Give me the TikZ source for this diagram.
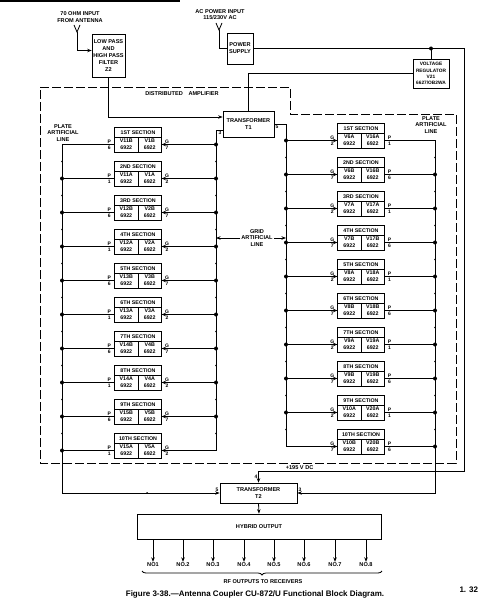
\documentclass[tikz,border=0pt]{standalone}
\usepackage{fontspec}
\setmainfont{Liberation Sans}
\usepackage{array}
\usepackage{tikz}
\usetikzlibrary{positioning, arrows.meta, decorations.pathreplacing}

\newcolumntype{C}{>{\centering\arraybackslash}p{20pt}}
\newcommand{\secbox}[3]{%
	\setlength{\tabcolsep}{1.5pt}\renewcommand{\arraystretch}{1.25}%
	\begin{tabular}{C|C}
		\multicolumn{2}{c}{\rule[-2.5pt]{0pt}{9.5pt}#1}\\\hline
		#2 & #3\\
		6922 & 6922
	\end{tabular}}

\begin{document}
\begin{tikzpicture}[
			x=1pt, y=-1pt,
			node distance=8.3pt,
			sect/.style={draw, line width=0.7pt, inner sep=0pt, minimum height=25pt, font=\fontsize{5.3}{6}\selectfont\bfseries},
			block/.style={draw, line width=0.7pt, align=center, inner sep=1pt, font=\fontsize{5.6}{7}\selectfont\bfseries},
			lbl/.style={align=center, inner sep=1pt, font=\fontsize{5.6}{6.5}\selectfont\bfseries},
			pinlbl/.style={inner sep=0.8pt, font=\fontsize{5}{5}\selectfont\bfseries},
			wire/.style={line width=0.8pt},
			arrow/.style={wire, -{Stealth[length=4.5pt, width=3.5pt]}},
			jdot/.style={circle, fill, inner sep=0pt, minimum size=4pt},
			minidot/.style={circle, fill, inner sep=0pt, minimum size=1.8pt},
			brace/.style={wire, decorate, decoration={brace, mirror, amplitude=4pt}},
			amp/.style={wire, dash pattern=on 9pt off 3pt}
			]
			\useasboundingbox (0,0) rectangle (480,615);
			\draw[line width=2pt] (0,1) -- (180,1);
			
			% Nodes
			\node[lbl] (antin) at (80,17) {70 OHM INPUT\\FROM ANTENNA};
			\node[lbl] (acin) at (220,14.5) {AC POWER INPUT\\115/230V AC};
			\node[block, minimum width=33pt, minimum height=43pt] (filt) at (108.5,55.5) {LOW PASS\\AND\\HIGH PASS\\FILTER\\Z2};
			\node[block, minimum width=26pt, minimum height=31pt] (psu) at (240,48.5) {POWER\\SUPPLY};
			\node[block, minimum width=36pt, minimum height=29pt, font=\fontsize{4.8}{6.2}\selectfont\bfseries] (reg) at (431,73.5) {VOLTAGE\\REGULATOR\\V21\\6627/OB2WA};
			\node[lbl] (dist) at (182,94) {DISTRIBUTED\quad AMPLIFIER};
			\node[block, minimum width=51pt, minimum height=26pt] (t1) at (248.5,124) {TRANSFORMER\\T1};
			\node[lbl] (platel) at (63,133) {PLATE\\ARTIFICIAL\\LINE};
			\node[lbl] (plater) at (431,125) {PLATE\\ARTIFICIAL\\LINE};
			\node[lbl] (grid) at (257,238) {GRID\\ARTIFICIAL\\LINE};
			
			\node[sect] (l1) at (138,139.5) {\secbox{1ST SECTION}{V11B}{V1B}};
			\node[sect, below=of l1] (l2) {\secbox{2ND SECTION}{V11A}{V1A}};
			\node[sect, below=of l2] (l3) {\secbox{3RD SECTION}{V12B}{V2B}};
			\node[sect, below=of l3] (l4) {\secbox{4TH SECTION}{V12A}{V2A}};
			\node[sect, below=of l4] (l5) {\secbox{5TH SECTION}{V13B}{V3B}};
			\node[sect, below=of l5] (l6) {\secbox{6TH SECTION}{V13A}{V3A}};
			\node[sect, below=of l6] (l7) {\secbox{7TH SECTION}{V14B}{V4B}};
			\node[sect, below=of l7] (l8) {\secbox{8TH SECTION}{V14A}{V4A}};
			\node[sect, below=of l8] (l9) {\secbox{9TH SECTION}{V15B}{V5B}};
			\node[sect, below=of l9] (l10) {\secbox{10TH SECTION}{V15A}{V5A}};
			
			\node[sect] (r1) at (361,135.5) {\secbox{1ST SECTION}{V6A}{V16A}};
			\node[sect, below=of r1] (r2) {\secbox{2ND SECTION}{V6B}{V16B}};
			\node[sect, below=of r2] (r3) {\secbox{3RD SECTION}{V7A}{V17A}};
			\node[sect, below=of r3] (r4) {\secbox{4TH SECTION}{V7B}{V17B}};
			\node[sect, below=of r4] (r5) {\secbox{5TH SECTION}{V8A}{V18A}};
			\node[sect, below=of r5] (r6) {\secbox{6TH SECTION}{V8B}{V18B}};
			\node[sect, below=of r6] (r7) {\secbox{7TH SECTION}{V9A}{V19A}};
			\node[sect, below=of r7] (r8) {\secbox{8TH SECTION}{V9B}{V19B}};
			\node[sect, below=of r8] (r9) {\secbox{9TH SECTION}{V10A}{V20A}};
			\node[sect, below=of r9] (r10) {\secbox{10TH SECTION}{V10B}{V20B}};
			
			\node[block, minimum width=77pt, minimum height=20pt] (t2) at (258.5,493) {TRANSFORMER\\T2};
			\node[block, minimum width=244pt, minimum height=25pt] (hyb) at (259,526.5) {HYBRID OUTPUT};
			
			\node[lbl] (o1) at (153,565) {NO1};
			\node[lbl] (o2) at (183,565) {NO.2};
			\node[lbl] (o3) at (213,565) {NO.3};
			\node[lbl] (o4) at (244,565) {NO.4};
			\node[lbl] (o5) at (274,565) {NO.5};
			\node[lbl] (o6) at (304,565) {NO.6};
			\node[lbl] (o7) at (335,565) {NO.7};
			\node[lbl] (o8) at (366,565) {NO.8};
			\node[lbl] (rf) at (263,582) {RF OUTPUTS TO RECEIVERS};
			\node[font=\fontsize{8}{9}\selectfont\bfseries] (cap) at (255,594) {Figure 3-38.—Antenna Coupler CU-872/U Functional Block Diagram.};
			\node[font=\fontsize{8}{9}\selectfont\bfseries, anchor=west] (pg) at (456,590) {1. 32};
			
			% Lines of the artificial lines
			\coordinate (pl) at (62,0);
			\coordinate (gl) at (216,0);
			\coordinate (gr) at (286,0);
			\coordinate (pr) at (435,0);
			\coordinate (ant1) at (77,32);
			\coordinate (ant2) at (219,30);
			\coordinate (dc) at (464,471);
			
			\draw[amp] (40,87) -- (290,87) -- (290,114) -- (456,114) -- (456,463) -- (40,463) -- cycle;
			\draw[wire] (74,25) -- (ant1) -- (80,25);
			\draw[wire] (216,23) -- (ant2) -- (222,23);
			
			% Arrows
			\draw[arrow] (ant1) |- ([yshift=5pt]filt.west);
			\draw[wire] (ant2) |- (psu.west);
			\draw[arrow] (filt.south) |- ([yshift=7pt]t1.west);
			\draw[wire] (reg.west) -| (t1.north);
			\draw[arrow] (psu.east) -- (psu.east -| dc) -- (dc) -| node[lbl, above, pos=0.4] {+195 V DC} node[pinlbl, left, pos=0.75] {4} (t2.north);
			\draw[wire] (reg.north |- psu.east) node[jdot] {} -- (reg.north);
			
			\draw[wire] ([yshift=-6pt]t1.west) node[pinlbl, below left] {3} -| ([yshift=-5pt]l10.east -| gl);
			\draw[wire] (t1.east) node[pinlbl, below right] {5} -| ([yshift=-5pt]r10.west -| gr);
			\draw[arrow] (grid.west) -- (grid.west -| gl);
			\draw[arrow] (grid.east) -- (grid.east -| gr);
			
			\draw[arrow] ([yshift=-5pt]l1.west) -- node[pinlbl, above, pos=.1] {P} node[pinlbl, below, pos=.1] {6} ([yshift=-5pt]l1.west -| pl) |- node[minidot, pos=0.77] {} node[pinlbl, above left, pos=1] {5} (t2.west);
			\draw[wire] ([yshift=-5pt]l2.west) -- node[pinlbl, above, pos=.1] {P} node[pinlbl, below, pos=.1] {1} ([yshift=-5pt]l2.west -| pl) node[jdot] {};
			\draw[wire] ([yshift=-5pt]l3.west) -- node[pinlbl, above, pos=.1] {P} node[pinlbl, below, pos=.1] {6} ([yshift=-5pt]l3.west -| pl) node[jdot] {};
			\draw[wire] ([yshift=-5pt]l4.west) -- node[pinlbl, above, pos=.1] {P} node[pinlbl, below, pos=.1] {1} ([yshift=-5pt]l4.west -| pl) node[jdot] {};
			\draw[wire] ([yshift=-5pt]l5.west) -- node[pinlbl, above, pos=.1] {P} node[pinlbl, below, pos=.1] {6} ([yshift=-5pt]l5.west -| pl) node[jdot] {};
			\draw[wire] ([yshift=-5pt]l6.west) -- node[pinlbl, above, pos=.1] {P} node[pinlbl, below, pos=.1] {1} ([yshift=-5pt]l6.west -| pl) node[jdot] {};
			\draw[wire] ([yshift=-5pt]l7.west) -- node[pinlbl, above, pos=.1] {P} node[pinlbl, below, pos=.1] {6} ([yshift=-5pt]l7.west -| pl) node[jdot] {};
			\draw[wire] ([yshift=-5pt]l8.west) -- node[pinlbl, above, pos=.1] {P} node[pinlbl, below, pos=.1] {1} ([yshift=-5pt]l8.west -| pl) node[jdot] {};
			\draw[wire] ([yshift=-5pt]l9.west) -- node[pinlbl, above, pos=.1] {P} node[pinlbl, below, pos=.1] {6} ([yshift=-5pt]l9.west -| pl) node[jdot] {};
			\draw[wire] ([yshift=-5pt]l10.west) -- node[pinlbl, above, pos=.1] {P} node[pinlbl, below, pos=.1] {1} ([yshift=-5pt]l10.west -| pl) node[jdot] {};
			
			\draw[arrow] ([yshift=-5pt]l1.east -| gl) node[jdot] {} -- node[pinlbl, above, pos=.9] {G} node[pinlbl, below, pos=.9] {7} ([yshift=-5pt]l1.east);
			\draw[arrow] ([yshift=-5pt]l2.east -| gl) node[jdot] {} -- node[pinlbl, above, pos=.9] {G} node[pinlbl, below, pos=.9] {2} ([yshift=-5pt]l2.east);
			\draw[arrow] ([yshift=-5pt]l3.east -| gl) node[jdot] {} -- node[pinlbl, above, pos=.9] {G} node[pinlbl, below, pos=.9] {7} ([yshift=-5pt]l3.east);
			\draw[arrow] ([yshift=-5pt]l4.east -| gl) node[jdot] {} -- node[pinlbl, above, pos=.9] {G} node[pinlbl, below, pos=.9] {2} ([yshift=-5pt]l4.east);
			\draw[arrow] ([yshift=-5pt]l5.east -| gl) node[jdot] {} -- node[pinlbl, above, pos=.9] {G} node[pinlbl, below, pos=.9] {7} ([yshift=-5pt]l5.east);
			\draw[arrow] ([yshift=-5pt]l6.east -| gl) node[jdot] {} -- node[pinlbl, above, pos=.9] {G} node[pinlbl, below, pos=.9] {2} ([yshift=-5pt]l6.east);
			\draw[arrow] ([yshift=-5pt]l7.east -| gl) node[jdot] {} -- node[pinlbl, above, pos=.9] {G} node[pinlbl, below, pos=.9] {7} ([yshift=-5pt]l7.east);
			\draw[arrow] ([yshift=-5pt]l8.east -| gl) node[jdot] {} -- node[pinlbl, above, pos=.9] {G} node[pinlbl, below, pos=.9] {2} ([yshift=-5pt]l8.east);
			\draw[arrow] ([yshift=-5pt]l9.east -| gl) node[jdot] {} -- node[pinlbl, above, pos=.9] {G} node[pinlbl, below, pos=.9] {7} ([yshift=-5pt]l9.east);
			\draw[arrow] ([yshift=-5pt]l10.east -| gl) -- node[pinlbl, above, pos=.9] {G} node[pinlbl, below, pos=.9] {2} ([yshift=-5pt]l10.east);
			
			\draw[arrow] ([yshift=-5pt]r1.west -| gr) node[jdot] {} -- node[pinlbl, above, pos=.9] {G} node[pinlbl, below, pos=.9] {2} ([yshift=-5pt]r1.west);
			\draw[arrow] ([yshift=-5pt]r2.west -| gr) node[jdot] {} -- node[pinlbl, above, pos=.9] {G} node[pinlbl, below, pos=.9] {7} ([yshift=-5pt]r2.west);
			\draw[arrow] ([yshift=-5pt]r3.west -| gr) node[jdot] {} -- node[pinlbl, above, pos=.9] {G} node[pinlbl, below, pos=.9] {2} ([yshift=-5pt]r3.west);
			\draw[arrow] ([yshift=-5pt]r4.west -| gr) node[jdot] {} -- node[pinlbl, above, pos=.9] {G} node[pinlbl, below, pos=.9] {7} ([yshift=-5pt]r4.west);
			\draw[arrow] ([yshift=-5pt]r5.west -| gr) node[jdot] {} -- node[pinlbl, above, pos=.9] {G} node[pinlbl, below, pos=.9] {2} ([yshift=-5pt]r5.west);
			\draw[arrow] ([yshift=-5pt]r6.west -| gr) node[jdot] {} -- node[pinlbl, above, pos=.9] {G} node[pinlbl, below, pos=.9] {7} ([yshift=-5pt]r6.west);
			\draw[arrow] ([yshift=-5pt]r7.west -| gr) node[jdot] {} -- node[pinlbl, above, pos=.9] {G} node[pinlbl, below, pos=.9] {2} ([yshift=-5pt]r7.west);
			\draw[arrow] ([yshift=-5pt]r8.west -| gr) node[jdot] {} -- node[pinlbl, above, pos=.9] {G} node[pinlbl, below, pos=.9] {7} ([yshift=-5pt]r8.west);
			\draw[arrow] ([yshift=-5pt]r9.west -| gr) node[jdot] {} -- node[pinlbl, above, pos=.9] {G} node[pinlbl, below, pos=.9] {2} ([yshift=-5pt]r9.west);
			\draw[arrow] ([yshift=-5pt]r10.west -| gr) -- node[pinlbl, above, pos=.9] {G} node[pinlbl, below, pos=.9] {7} ([yshift=-5pt]r10.west);
			
			\draw[arrow] ([yshift=-5pt]r1.east) -- node[pinlbl, above, pos=.1] {P} node[pinlbl, below, pos=.1] {1} ([yshift=-5pt]r1.east -| pr) |- node[pinlbl, above right, pos=1] {3} (t2.east);
			\draw[wire] ([yshift=-5pt]r2.east) -- node[pinlbl, above, pos=.1] {P} node[pinlbl, below, pos=.1] {6} ([yshift=-5pt]r2.east -| pr) node[jdot] {};
			\draw[wire] ([yshift=-5pt]r3.east) -- node[pinlbl, above, pos=.1] {P} node[pinlbl, below, pos=.1] {1} ([yshift=-5pt]r3.east -| pr) node[jdot] {};
			\draw[wire] ([yshift=-5pt]r4.east) -- node[pinlbl, above, pos=.1] {P} node[pinlbl, below, pos=.1] {6} ([yshift=-5pt]r4.east -| pr) node[jdot] {};
			\draw[wire] ([yshift=-5pt]r5.east) -- node[pinlbl, above, pos=.1] {P} node[pinlbl, below, pos=.1] {1} ([yshift=-5pt]r5.east -| pr) node[jdot] {};
			\draw[wire] ([yshift=-5pt]r6.east) -- node[pinlbl, above, pos=.1] {P} node[pinlbl, below, pos=.1] {6} ([yshift=-5pt]r6.east -| pr) node[jdot] {};
			\draw[wire] ([yshift=-5pt]r7.east) -- node[pinlbl, above, pos=.1] {P} node[pinlbl, below, pos=.1] {1} ([yshift=-5pt]r7.east -| pr) node[jdot] {};
			\draw[wire] ([yshift=-5pt]r8.east) -- node[pinlbl, above, pos=.1] {P} node[pinlbl, below, pos=.1] {6} ([yshift=-5pt]r8.east -| pr) node[jdot] {};
			\draw[wire] ([yshift=-5pt]r9.east) -- node[pinlbl, above, pos=.1] {P} node[pinlbl, below, pos=.1] {1} ([yshift=-5pt]r9.east -| pr) node[jdot] {};
			\draw[wire] ([yshift=-5pt]r10.east) -- node[pinlbl, above, pos=.1] {P} node[pinlbl, below, pos=.1] {6} ([yshift=-5pt]r10.east -| pr) node[jdot] {};
			
			% small marks between the sections
			\foreach \k in {0,...,8} {
				\node[minidot] at (62,{161.5+34*\k}) {};
				\node[minidot] at (216,{161.5+34*\k}) {};
				\node[minidot] at (286,{157.5+34*\k}) {};
				\node[minidot] at (435,{157.5+34*\k}) {};
			}
			
			\draw[arrow] (t2.south) -- (hyb.north);
			\draw[arrow] (hyb.south -| o1) -- (o1);
			\draw[arrow] (hyb.south -| o2) -- (o2);
			\draw[arrow] (hyb.south -| o3) -- (o3);
			\draw[arrow] (hyb.south -| o4) -- (o4);
			\draw[arrow] (hyb.south -| o5) -- (o5);
			\draw[arrow] (hyb.south -| o6) -- (o6);
			\draw[arrow] (hyb.south -| o7) -- (o7);
			\draw[arrow] (hyb.south -| o8) -- (o8);
			\draw[brace] (142,571) -- (382,571);
			
		\end{tikzpicture}
\end{document}
